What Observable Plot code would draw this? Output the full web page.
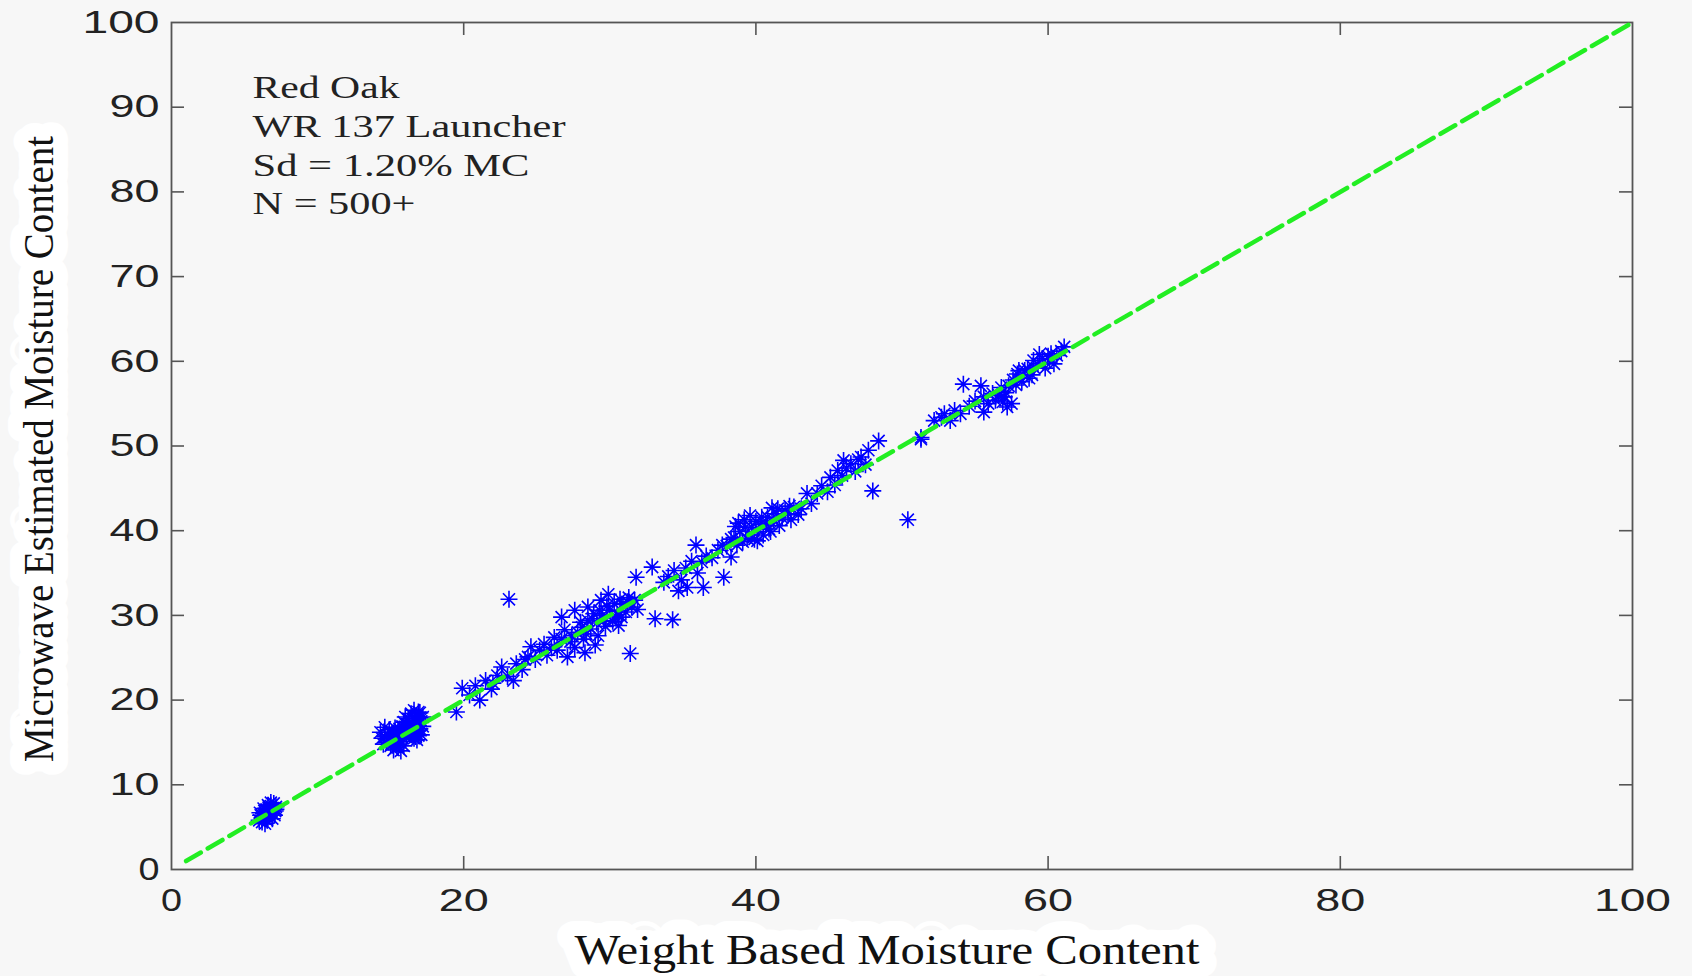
<!DOCTYPE html>
<html><head><meta charset="utf-8">
<script src="https://cdn.jsdelivr.net/npm/d3@7"></script>
<script src="https://cdn.jsdelivr.net/npm/@observablehq/plot@0.6"></script>
<style>
html,body{margin:0;padding:0;background:#f7f7f7;overflow:hidden;}
svg{display:block;}
</style></head><body><div id="chart"></div>
<script>
// ---- data ----
const xTicks = [0, 20, 40, 60, 80, 100];
const yTicks = [0, 10, 20, 30, 40, 50, 60, 70, 80, 90, 100];
const xInnerTicks = [20, 40, 60, 80];
const yInnerTicks = [10, 20, 30, 40, 50, 60, 70, 80, 90];
const annotationLines = ["Red Oak", "WR 137 Launcher", "Sd = 1.20% MC", "N = 500+"];
const xTitle = "Weight Based Moisture Content";
const yTitle = "Microwave Estimated Moisture Content";
const refX = [1, 100];
const refY = [1, 100];

const clusterLow = [[6.0,5.8],[6.2,6.1],[6.4,6.0],[6.5,6.5],[6.6,6.8],[6.8,7.0],[7.0,7.2],[6.3,6.6],[6.7,6.3],[6.9,6.6],[7.1,6.9],[6.1,6.4],[6.5,7.1],[6.8,7.5],[7.0,7.8],[6.6,7.6],[6.2,5.6],[6.4,5.4],[6.9,6.0],[7.15,7.4],[6.3,7.2],[6.6,6.1],[6.05,6.7],[6.75,6.9],[6.45,6.3],[7.05,6.4],[6.55,5.8],[6.8,7.9],[6.35,6.9],[7.15,7.1]];
const clusterMid = [[14.3,16.2],[14.4,15.5],[14.6,16.8],[14.7,15.0],[14.8,15.9],[14.9,16.5],[15.0,14.6],[15.0,15.4],[15.1,16.1],[15.2,14.1],[15.3,15.0],[15.3,16.7],[15.4,15.7],[15.5,14.4],[15.5,16.3],[15.6,15.1],[15.7,14.0],[15.7,16.0],[15.8,15.5],[15.8,16.9],[14.5,14.8],[15.9,14.6],
  [15.9,17.4],[16.0,16.2],[16.0,18.0],[16.1,15.6],[16.2,16.9],[16.2,17.8],[16.3,15.9],[16.4,16.5],[16.4,18.4],[16.5,17.2],[16.6,15.5],[16.6,16.0],[16.6,18.8],[16.7,17.6],[16.8,16.4],[16.8,18.1],[16.9,15.8],[16.9,17.0],[17.0,16.6],[17.0,18.5],[17.1,17.5],[17.1,15.9],[17.2,16.9],[17.2,18.0],[16.3,17.3],[16.7,16.8],[16.5,16.0],[17.0,17.9],[16.1,16.6],[16.8,15.3],
  [15.2,15.6],[15.6,16.6],[16.3,16.4],[16.9,18.6],[14.6,15.7],[15.4,14.8],[16.7,15.7]];
const band20to24 = [[19.5,18.6],[19.9,21.4],[20.4,20.6],[20.8,21.7],[21.1,20.0],[21.5,22.3],[21.9,21.3],[22.3,22.9],[22.6,23.9],[23.0,22.8],[23.4,22.3],[23.6,24.3],[24.0,23.6],[24.4,25.1],[23.1,31.9],[24.2,24.8],[22.0,22.0]];
const band24to32 = [[24.6,26.3],[24.9,24.8],[25.2,25.9],[25.5,26.6],[25.7,25.3],[26.0,26.2],[26.2,27.4],[26.4,25.9],[26.7,27.2],[26.7,29.8],[26.9,28.3],[27.1,25.1],[27.3,26.9],[27.6,26.2],[27.6,30.6],[27.8,28.0],[28.0,29.2],[28.2,27.2],[28.3,25.6],[28.5,29.4],[28.7,28.4],[28.9,30.2],[29.1,29.1],[29.2,27.6],[29.4,31.8],[29.5,30.0],[29.7,28.7],[29.9,32.5],[30.0,30.6],[30.2,29.3],[30.3,31.4],[30.5,30.1],[30.6,28.8],[30.8,29.8],[30.9,31.3],[31.1,30.4],[31.3,32.1],[31.5,31.0],[31.7,31.8],[31.9,30.7],[31.4,25.5],[28.5,31.0],[29.0,26.5],
  [28.1,28.6],[28.8,29.6],[29.3,30.6],[29.8,31.1],[30.4,29.7],[30.7,31.9],[31.2,31.6],[29.6,29.4],[28.4,27.8],[27.4,27.6]];
const band32to38 = [[31.8,34.5],[32.9,35.7],[33.1,29.6],[34.3,29.5],[33.7,33.9],[34.0,34.6],[34.4,35.3],[34.7,32.9],[34.9,34.2],[35.2,35.6],[35.3,33.3],[35.6,36.4],[35.9,38.3],[36.0,35.0],[36.3,36.3],[36.6,37.0],[37.0,36.8],[37.4,37.7],[37.8,34.5],[36.4,33.3],[37.7,38.3]];
const band38to43 = [[38.0,38.2],[38.3,36.9],[38.3,39.0],[38.5,39.2],[38.7,38.3],[38.9,39.9],[39.1,38.7],[39.3,40.4],[39.5,39.5],[39.7,40.4],[39.9,39.0],[40.0,41.1],[40.2,40.2],[40.4,41.6],[40.5,39.5],[40.7,40.8],[40.8,41.6],[41.0,39.9],[41.2,41.2],[41.4,42.0],[41.6,40.6],[41.8,41.5],[42.0,42.4],[42.2,42.0],[42.4,41.3],[42.6,42.8],[42.9,41.9],[43.1,42.6],[39.2,41.3],[40.1,38.8],[41.1,42.7],[38.6,40.5],
  [38.8,40.9],[39.6,41.8],[40.3,40.7],[41.5,42.6],[39.4,39.1],[40.9,40.2],[42.3,42.9]];
const band43to50 = [[43.5,44.4],[43.8,43.2],[44.2,44.4],[44.5,45.3],[44.9,44.6],[45.1,46.3],[45.4,45.4],[45.6,47.1],[45.9,46.5],[46.2,47.4],[46.5,47.9],[46.8,47.0],[47.0,48.4],[47.2,48.7],[47.5,47.8],[47.7,49.5],[48.0,44.7],[48.4,50.6],[50.4,41.3],[46.0,48.3]];
const band50to62 = [[51.3,50.8],[51.3,51.0],[52.2,53.0],[52.7,53.4],[52.9,53.8],[53.3,53.0],[53.6,54.2],[54.0,53.8],[54.2,57.3],[54.6,54.7],[55.0,55.3],[55.4,57.1],[55.6,54.0],[55.6,55.8],[55.9,55.0],[56.2,56.2],[56.4,55.4],[56.8,56.9],[57.0,55.8],[57.2,54.6],[57.5,55.0],[57.3,57.1],[57.6,57.8],[57.9,58.5],[58.2,57.6],[58.4,58.9],[58.6,59.1],[58.9,58.4],[59.0,59.3],[59.0,60.1],[59.3,59.7],[59.6,60.3],[59.8,59.2],[60.0,60.6],[60.2,60.9],[60.4,59.7],[60.6,60.7],[60.9,61.2],[61.1,61.7],[56.6,56.0],[57.1,56.3],
  [58.0,58.9],[58.7,58.0],[59.4,60.8],[60.1,60.2],[57.8,57.2],[56.9,55.2]];

const points = [].concat(clusterLow, clusterMid, band20to24, band24to32, band32to38, band38to43, band43to50, band50to62)
  .map(([x, y]) => ({weight: x, microwave: y}));

// ---- styling ----
const W = 1692, H = 976;
const mL = 171, mR = 60, mT = 22, mB = 107;
const frameW = W - mL - mR, frameH = H - mT - mB;
const tickLen = 13;
const axisColor = "#555";
const serif = "'Liberation Serif', 'Times New Roman', serif";
const sans = "'Liberation Sans', Arial, sans-serif";

// MATLAB-style 8-armed asterisk
const star8 = {
  draw(ctx, size) {
    const r = Math.sqrt(size / Math.PI);
    const d = r * Math.SQRT1_2;
    ctx.moveTo(-r, 0); ctx.lineTo(r, 0);
    ctx.moveTo(0, -r); ctx.lineTo(0, r);
    ctx.moveTo(-d, -d); ctx.lineTo(d, d);
    ctx.moveTo(-d, d); ctx.lineTo(d, -d);
  }
};

const annoBaselines = [75, 114, 153, 191];

const chart = Plot.plot({
  width: W, height: H,
  marginLeft: mL, marginRight: mR, marginTop: mT, marginBottom: mB,
  style: {background: "#f7f7f7", overflow: "visible"},
  x: {domain: [0, 100], label: null},
  y: {domain: [0, 100], label: null},
  marks: [
    // axis titles with white halo
    Plot.text([xTitle], {text: d => d, frameAnchor: "bottom", textAnchor: "middle", lineAnchor: "bottom",
      dx: -15, dy: 94, fontFamily: serif, fontSize: 42, fill: "#111",
      stroke: "white", strokeWidth: 30, strokeLinejoin: "round", paintOrder: "stroke"}),
    Plot.text([yTitle], {text: d => d, frameAnchor: "left", textAnchor: "middle", lineAnchor: "bottom", rotate: -90,
      dx: -119, dy: 3, fontFamily: serif, fontSize: 42, fill: "#111",
      stroke: "white", strokeWidth: 30, strokeLinejoin: "round", paintOrder: "stroke"}),
    // tick labels
    Plot.axisX(xTicks, {anchor: "bottom", tickSize: 0, tickPadding: 19, fontSize: 32, fontFamily: sans, color: "#222", label: null}),
    Plot.axisY(yTicks, {anchor: "left", tickSize: 0, tickPadding: 12, fontSize: 32, fontFamily: sans, color: "#222", label: null}),
    // inner ticks on all four sides
    Plot.tickX(xInnerTicks, {x: d => d, insetTop: frameH - tickLen, stroke: axisColor, strokeWidth: 1.6}),
    Plot.tickX(xInnerTicks, {x: d => d, insetBottom: frameH - tickLen, stroke: axisColor, strokeWidth: 1.6}),
    Plot.tickY(yInnerTicks, {y: d => d, insetRight: frameW - tickLen, stroke: axisColor, strokeWidth: 1.6}),
    Plot.tickY(yInnerTicks, {y: d => d, insetLeft: frameW - tickLen, stroke: axisColor, strokeWidth: 1.6}),
    Plot.frame({stroke: axisColor, strokeWidth: 1.8}),
    // data
    Plot.dot(points, {x: "weight", y: "microwave", symbol: star8, r: 8.5, fill: "none", stroke: "#0000ff", strokeWidth: 1.6}),
    Plot.line(refX.map((x, i) => ({x, y: refY[i]})), {x: "x", y: "y", stroke: "#22ee22", strokeWidth: 4.5, strokeDasharray: "17,8"}),
    // annotation
    ...annotationLines.map((t, i) => Plot.text([t], {text: d => d, frameAnchor: "top-left", textAnchor: "start", lineAnchor: "bottom",
      dx: 81, dy: annoBaselines[i], fontFamily: serif, fontSize: 32, fill: "#222"}))
  ]
});

// stretch texts horizontally to match the reference's wide glyphs
const textLengths = {"Red Oak": 147, "WR 137 Launcher": 313, "Sd = 1.20% MC": 277, "N = 500+": 163};
textLengths[xTitle] = 625;
textLengths[yTitle] = 626;
const digitLengths = {1: 21, 2: 50, 3: 77};
d3.select(chart).selectAll("text").each(function() {
  const t = this.textContent;
  let L = textLengths[t];
  if (L === undefined && /^\d+$/.test(t)) L = digitLengths[t.length];
  if (L !== undefined) {
    this.setAttribute("textLength", L);
    this.setAttribute("lengthAdjust", "spacingAndGlyphs");
  }
});

document.getElementById("chart").appendChild(chart);
</script>
</body></html>
